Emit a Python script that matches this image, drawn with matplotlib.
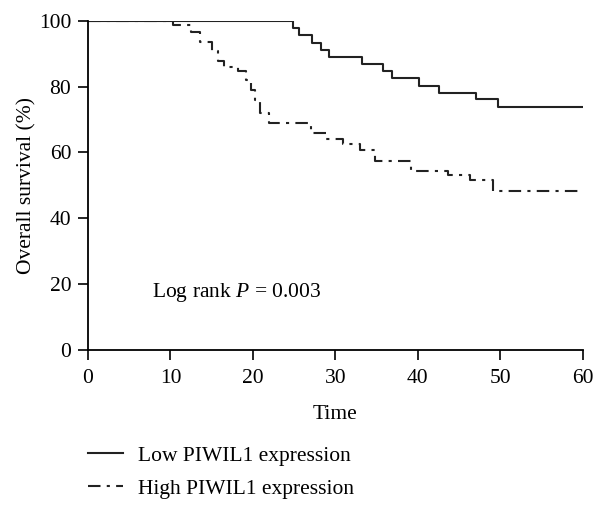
import matplotlib.pyplot as plt
import numpy as np

# Kaplan-Meier step data
low_time = [0, 24.9, 25.6, 27.2, 28.3, 29.2, 33.2, 35.8, 36.9, 40.1, 42.6, 47.0, 49.7, 60]
low_surv = [100, 97.8, 95.6, 93.4, 91.2, 89.0, 86.8, 84.7, 82.5, 80.3, 78.2, 76.1, 73.8, 73.8]

high_time = [0, 10.3, 12.5, 13.6, 15.0, 15.8, 16.5, 18.2, 19.2, 19.8, 20.3, 20.8, 21.9,
             27.1, 28.9, 30.9, 33.0, 34.8, 39.2, 43.7, 46.3, 49.1, 60]
high_surv = [100, 98.7, 96.5, 93.5, 90.7, 87.8, 86.1, 84.8, 82.1, 79.0, 76.0, 72.0, 68.9,
             65.8, 64.0, 62.5, 60.8, 57.4, 54.5, 53.1, 51.7, 48.4, 48.4]

x_ticks = [0, 10, 20, 30, 40, 50, 60]
y_ticks = [0, 20, 40, 60, 80, 100]

plt.rcParams['font.family'] = ['Liberation Serif', 'DejaVu Serif']
plt.rcParams['mathtext.fontset'] = 'custom'
plt.rcParams['mathtext.rm'] = 'Liberation Serif'
plt.rcParams['mathtext.it'] = 'Liberation Serif:italic'

fig = plt.figure(figsize=(6.07, 5.07), dpi=100)
ax = fig.add_axes([0.145, 0.31, 0.815, 0.649])

l1, = ax.step(low_time, low_surv, where='post', color='#222222', lw=1.5,
              label='Low PIWIL1 expression')
l2, = ax.step(high_time, high_surv, where='post', color='#222222', lw=1.5,
              linestyle=(0, (6, 3, 1.5, 3)), label='High PIWIL1 expression')

ax.set_xlim(0, 60)
ax.set_ylim(0, 100)
ax.set_xticks(x_ticks)
ax.set_yticks(y_ticks)
ax.tick_params(direction='out', length=7, width=1.2, labelsize=15.5)
ax.tick_params(axis='x', pad=7)
ax.tick_params(axis='y', pad=5)
for s in ['top', 'right']:
    ax.spines[s].set_visible(False)
for s in ['left', 'bottom']:
    ax.spines[s].set_linewidth(1.3)

ax.set_xlabel('Time', fontsize=15.5, labelpad=12)
ax.set_ylabel('Overall survival (%)', fontsize=15.5, labelpad=2)

ax.text(7.7, 17.3, 'Log rank $\\mathit{P}$ = 0.003', fontsize=15.5, va='center')

fig.legend(handles=[l1, l2], loc='upper left', bbox_to_anchor=(0.131, 0.138),
           frameon=False, fontsize=15.5, handlelength=1.63, handletextpad=0.7,
           labelspacing=0.6, borderaxespad=0)

fig.savefig('out.png', dpi=100)
